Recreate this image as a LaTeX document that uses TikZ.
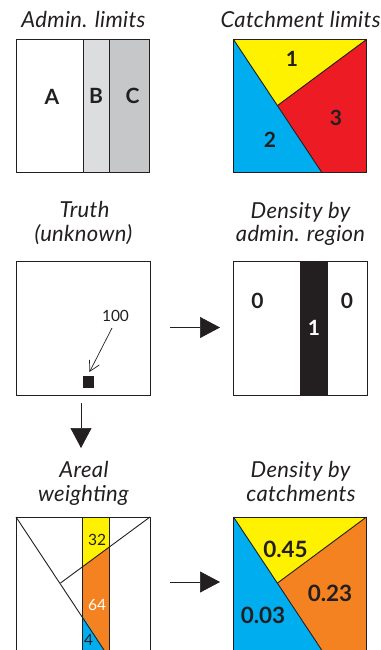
\documentclass[tikz,border=0pt]{standalone}
\usepackage{fontspec}
\setmainfont{Lato}
\usetikzlibrary{arrows.meta}
\definecolor{ink}{HTML}{231F20}
\definecolor{yel}{HTML}{FFF200}
\definecolor{cya}{HTML}{00AEEF}
\definecolor{rd}{HTML}{ED1C24}
\definecolor{org}{HTML}{F58220}
\definecolor{gra}{HTML}{DCDDDF}
\definecolor{grb}{HTML}{C6C7C9}
\tikzset{
  ttl/.style={font=\fontsize{22}{24}\selectfont\itshape\addfontfeatures{LetterSpace=1.5},text=ink,align=center,inner sep=0pt,anchor=base},
  lab/.style={font=\fontsize{21}{24}\selectfont\bfseries,text=ink,inner sep=0pt},
  val/.style={font=\fontsize{22.5}{24}\selectfont\bfseries,text=ink,inner sep=0pt},
  sm/.style={font=\fontsize{15.5}{18}\selectfont,text=ink,inner sep=0pt},
  ln/.style={draw=ink,line width=0.9pt},
  bigarrow/.style={draw=ink,line width=0.7pt,-{Triangle[length=20pt,width=21pt]}},
  thinarrow/.style={draw=ink,line width=0.7pt,-{Straight Barb[length=10pt,width=11pt,line width=0.7pt]}},
}
\begin{document}
\begin{tikzpicture}[x=1pt,y=-1pt]
\useasboundingbox (0,0) rectangle (380,650);
\clip (0,0) rectangle (380,650);
\fill[white] (0,0) rectangle (380,650);

% Admin limits
\node[ttl] (t1) at (83.5,27.7) {Admin. limits};
\fill[gra] (83,39.5) rectangle (109.5,172);
\fill[grb] (109.5,39.5) rectangle (149.5,172);
\draw[ln] (83,39.5) -- (83,172);
\draw[ln] (109.5,39.5) -- (109.5,172);
\draw[ln] (16.5,39.5) rectangle (149.5,172);
\node[lab] (a) at (52,96.5) {A};
\node[lab] (b) at (96,96) {B};
\node[lab] (c) at (132.5,96) {C};

% Catchment limits
\node[ttl] (t2) at (300.5,27.7) {Catchment limits};
\fill[yel] (233.5,39.5) -- (366.5,39.5) -- (277.5,105.5) -- cycle;
\fill[cya] (233.5,39.5) -- (321.5,172) -- (233.5,172) -- cycle;
\fill[rd] (366.5,39.5) -- (366.5,172) -- (321.5,172) -- (277.5,105.5) -- cycle;
\draw[ln] (233.5,39.5) -- (321.5,172);
\draw[ln] (366.5,39.5) -- (277.5,105.5);
\draw[ln] (233.5,39.5) rectangle (366.5,172);
\node[lab] (n1) at (292,59) {1};
\node[lab] (n2) at (270,139.5) {2};
\node[lab] (n3) at (336,117.5) {3};

% Truth
\node[ttl] (t3) at (84.5,217.7) {Truth};
\node[ttl] (t3b) at (83.5,241) {(unknown)};
\draw[ln] (16.5,261.5) rectangle (150,395);
\node[fill=ink,minimum size=11.5pt,inner sep=0pt] (sq) at (88.5,382) {};
\node[sm] (h) at (115.5,315.5) {100};
\coordinate (hs) at (112,328);
\coordinate (he) at (89.5,372);
\draw[thinarrow] (hs) -- (he);

% Density by admin region
\node[ttl] (t4) at (300.5,218) {Density by};
\node[ttl] (t4b) at (300.5,241) {admin. region};
\fill[ink] (300,261.5) rectangle (328,395);
\draw[ln] (233.5,261.5) rectangle (367,395);
\node[lab] (z1) at (257.5,300.5) {0};
\node[lab] (z2) at (347,300.5) {0};
\node[lab,text=white] (z3) at (314,327.5) {1};

% Arrows
\coordinate (r1s) at (170,327.5);
\coordinate (r1e) at (220,327.5);
\draw[bigarrow] (r1s) -- (r1e);
\coordinate (d1s) at (81,403);
\coordinate (d1e) at (81,448);
\draw[bigarrow] (d1s) -- (d1e);
\coordinate (r2s) at (170,582);
\coordinate (r2e) at (220,582);
\draw[bigarrow] (r2s) -- (r2e);

% Areal weighting
\node[ttl] (t5) at (84,477.7) {Areal};
\node[ttl] (t5b) at (83.5,501) {weighting};
\fill[yel] (82.5,517) -- (109,517) -- (109,547.2) -- (82.5,566.8) -- cycle;
\fill[org] (82.5,566.8) -- (109,547.2) -- (109,655) -- (107.3,655) -- (82.5,615.6) -- cycle;
\fill[cya] (82.5,615.6) -- (107.3,655) -- (82.5,655) -- cycle;
\draw[ln] (82.5,517) -- (82.5,655);
\draw[ln] (109,517) -- (109,655);
\draw[ln] (16,517) -- (107.3,655);
\draw[ln] (150,517) -- (60.5,583);
\draw[ln] (16,655) -- (16,517) -- (150,517) -- (150,655);
\node[sm] (v1) at (97,539.5) {32};
\node[sm,text=white] (v2) at (97,605.5) {64};
\node[sm] (v3) at (88.5,640) {4};

% Density by catchments
\node[ttl] (t6) at (300.5,477.7) {Density by};
\node[ttl] (t6b) at (301,501) {catchments};
\fill[yel] (233.5,517) -- (366.5,517) -- (277.5,583) -- cycle;
\fill[cya] (233.5,517) -- (325,655) -- (233.5,655) -- cycle;
\fill[org] (366.5,517) -- (366.5,655) -- (325,655) -- (277.5,583) -- cycle;
\draw[ln] (233.5,517) -- (325,655);
\draw[ln] (366.5,517) -- (277.5,583);
\draw[ln] (233.5,655) -- (233.5,517) -- (366.5,517) -- (366.5,655);
\node[val] (w1) at (285.5,549.5) {0.45};
\node[val] (w2) at (330,593.5) {0.23};
\node[val] (w3) at (263,615) {0.03};
\end{tikzpicture}
\end{document}
